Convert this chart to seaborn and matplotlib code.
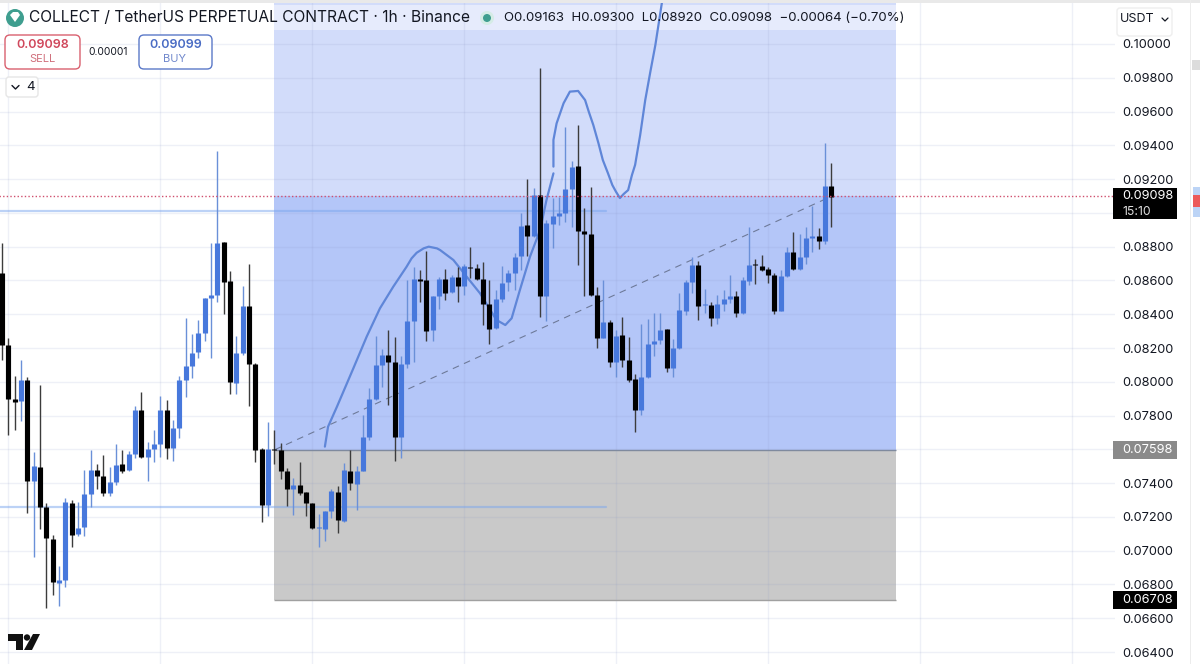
import numpy as np
import pandas as pd
import matplotlib
matplotlib.use("Agg")
import matplotlib.pyplot as plt
import seaborn as sns
from matplotlib.patches import Rectangle, FancyBboxPatch, Circle, Polygon
from matplotlib.lines import Line2D
from matplotlib.transforms import IdentityTransform

# Candles, price in units of 0.00001
opens = [8643, 8219, 7901, 7884, 8008, 7414, 7497, 7261, 7071, 6809,
         6825, 7282, 7099, 7138, 7336, 7480, 7442, 7342, 7405, 7513,
         7478, 7570, 7835, 7555, 7600, 7633, 7835, 7606, 7724, 8010,
         8095, 8174, 8286, 8495, 8515, 8828, 8596, 7994, 8172, 8450,
         8103, 7600, 7269, 7600, 7598, 7472, 7363, 7387, 7345, 7282,
         7134, 7131, 7233, 7347, 7178, 7474, 7397, 7474, 7671, 7898,
         8101, 8158, 8120, 7671, 8103, 8357, 8611, 8600, 8308, 8509,
         8610, 8529, 8623, 8570, 8682, 8675, 8608, 8460, 8316, 8493,
         8590, 8647, 8744, 8929, 8866, 9106, 8509, 8937, 8982, 8998,
         9140, 9278, 8895, 8876, 8511, 8262, 8355, 8117, 8276, 8130,
         8016, 7835, 8030, 8223, 8245, 8312, 8083, 8201, 8418, 8588,
         8692, 8452, 8454, 8379, 8458, 8493, 8505, 8410, 8598, 8696,
         8686, 8667, 8635, 8422, 8627, 8769, 8667, 8740, 8854, 8862,
         8834, 9162]
closes = [8219, 7901, 7878, 8010, 7414, 7501, 7261, 7073, 6813, 6825,
          7288, 7095, 7134, 7336, 7476, 7444, 7342, 7409, 7509, 7474,
          7570, 7835, 7556, 7600, 7631, 7835, 7606, 7724, 8010, 8095,
          8172, 8286, 8499, 8515, 8823, 8592, 8000, 8172, 8450, 8103,
          7598, 7269, 7604, 7596, 7472, 7363, 7387, 7342, 7282, 7134,
          7140, 7233, 7351, 7184, 7480, 7401, 7474, 7671, 7898, 8097,
          8158, 8120, 7671, 8103, 8361, 8611, 8598, 8302, 8509, 8610,
          8525, 8619, 8570, 8686, 8671, 8608, 8460, 8314, 8493, 8586,
          8643, 8740, 8925, 8866, 9106, 8509, 8939, 8982, 8998, 9140,
          9274, 8895, 8876, 8511, 8262, 8355, 8117, 8274, 8130, 8008,
          7835, 8030, 8221, 8243, 8308, 8083, 8201, 8424, 8588, 8692,
          8448, 8460, 8379, 8462, 8491, 8505, 8410, 8600, 8692, 8690,
          8663, 8635, 8420, 8627, 8769, 8667, 8740, 8854, 8862, 8834,
          9160, 9097]
highs = [8821, 8259, 8032, 8130, 8028, 7584, 7978, 7282, 7091, 6912,
         7310, 7298, 7290, 7480, 7598, 7513, 7564, 7495, 7631, 7598,
         7588, 7854, 7941, 7643, 7712, 7917, 7894, 7775, 8032, 8375,
         8280, 8365, 8499, 8821, 9369, 8828, 8655, 8274, 8566, 8696,
         8111, 7608, 7762, 7716, 7637, 7491, 7430, 7523, 7345, 7282,
         7219, 7233, 7365, 7385, 7519, 7598, 7503, 7805, 7963, 8272,
         8197, 8308, 8264, 8150, 8604, 8682, 8659, 8777, 8509, 8623,
         8669, 8633, 8682, 8698, 8797, 8698, 8708, 8600, 8544, 8686,
         8659, 8765, 8998, 9199, 9146, 9856, 8959, 9087, 9097, 9511,
         9310, 9521, 9028, 9156, 8564, 8604, 8363, 8308, 8381, 8264,
         8048, 8341, 8373, 8406, 8406, 8312, 8255, 8525, 8600, 8738,
         8718, 8552, 8470, 8515, 8544, 8635, 8535, 8623, 8919, 8728,
         8751, 8679, 8643, 8659, 8797, 8886, 8876, 8915, 9041, 8909,
         9416, 9298]
lows = [8130, 7687, 7716, 7766, 7223, 6963, 7129, 6659, 6736, 6675,
        6785, 7022, 7089, 7089, 7259, 7365, 7322, 7322, 7389, 7460,
        7472, 7547, 7551, 7411, 7525, 7553, 7543, 7533, 7667, 7909,
        8024, 8142, 8241, 8140, 8475, 8402, 7925, 7927, 8158, 7858,
        7525, 7170, 7207, 7515, 7424, 7267, 7213, 7332, 7203, 7129,
        7022, 7056, 7194, 7105, 7168, 7361, 7243, 7470, 7657, 7890,
        7969, 7864, 7529, 7549, 8081, 8115, 8475, 8243, 8239, 8430,
        8485, 8525, 8475, 8511, 8613, 8604, 8337, 8225, 8312, 8472,
        8535, 8544, 8663, 8742, 8860, 8381, 8361, 8795, 8929, 8949,
        8919, 8692, 8505, 8509, 8199, 8258, 8087, 8028, 8087, 7998,
        7700, 7803, 8022, 8154, 8223, 8059, 8028, 8197, 8393, 8525,
        8367, 8408, 8328, 8341, 8422, 8466, 8383, 8402, 8572, 8578,
        8653, 8586, 8402, 8420, 8623, 8663, 8659, 8698, 8771, 8787,
        8813, 8919]

# Hand drawn curve on the chart (bar number, price)
curve_a_x = [51.0, 51.5, 52.9, 55.5, 57.6, 59.7, 61.8, 63.9, 64.7, 65.5, 66.6, 67.4, 68.7,
             69.2, 71.3, 73.4, 75.5, 78.1, 79.5, 80.5, 81.8, 83.4, 85.0, 86.0, 87.1]
curve_a_y = [0.07616, 0.07734, 0.07852, 0.08080, 0.08267, 0.08435, 0.08563, 0.08681,
             0.08731, 0.08764, 0.08790, 0.08800, 0.08790, 0.08780, 0.08721, 0.08622,
             0.08524, 0.08366, 0.08336, 0.08376, 0.08543, 0.08741, 0.08899, 0.09076,
             0.09234]
curve_b_x = [87.1, 87.1, 87.6, 88.7, 89.7, 91.0, 92.1, 92.7, 93.4, 94.2, 94.9, 95.7, 96.4,
             97.0, 97.6, 98.2, 98.9, 99.5, 100.0, 100.8, 101.6, 102.4, 103.2, 104.3]
curve_b_y = [0.09274, 0.09432, 0.09530, 0.09649, 0.09718, 0.09722, 0.09668, 0.09597,
             0.09520, 0.09414, 0.09313, 0.09236, 0.09165, 0.09124, 0.09088, 0.09112,
             0.09135, 0.09224, 0.09284, 0.09461, 0.09668, 0.09834, 0.09994, 0.10261]

# Price levels
last_price = 0.09098
entry_price = 0.07598
stop_price = 0.06708
level_high = 0.09010
level_low = 0.07257
price_ticks = [0.064, 0.066, 0.068, 0.070, 0.072, 0.074, 0.076, 0.078, 0.080, 0.082,
               0.084, 0.086, 0.088, 0.090, 0.092, 0.094, 0.096, 0.098, 0.100]
# these two sit under the price flags in the reference
hidden_ticks = [0.076, 0.090]
day_ticks = [1, 25, 49, 73, 97, 121, 145, 169]

BLUE = "#4778dc"
BLUE_WICK = "#6a90d8"
BLACK = "#000000"
BLACK_WICK = "#3c3c3c"
INK = "#131722"

sns.set_theme(style="white")
plt.rcParams["font.family"] = ["Inter", "DejaVu Sans"]

W, H = 1200, 664
PIXELS = IdentityTransform()
fig = plt.figure(figsize=(W / 100, H / 100), dpi=100, facecolor="white")
ax = fig.add_axes([0, 0, 1115 / W, 1])
ax.set_xlim(-0.316, 175.8)
ax.set_ylim(0.06329, 0.102605)

df = pd.DataFrame({"bar": np.arange(len(opens)), "open": opens, "high": highs,
                   "low": lows, "close": closes})
df[["open", "high", "low", "close"]] = df[["open", "high", "low", "close"]] / 100000
df["side"] = np.where(df["close"] >= df["open"], "up", "down")

wicks = df.melt(id_vars=["bar", "side"], value_vars=["low", "high"], value_name="price")
bodies = df.melt(id_vars=["bar", "side"], value_vars=["open", "close"], value_name="price")

# -------------------------
# Position tool and levels
# -------------------------
left, right = 43.0, 141.2
ax.fill_between([left, right], last_price, 0.102605, color="#d2dcfa", lw=0, zorder=1)
ax.fill_between([left, right], entry_price, last_price, color="#b4c6f8", lw=0, zorder=1)
ax.fill_between([left, right], stop_price, entry_price, color="#c9c9c9", lw=0, zorder=1)
ax.fill_between([left, right], 0.10083, 0.10231, color="#e6ebfc", lw=0, zorder=1)
ax.plot([left, right], [entry_price, entry_price], color="#7f8a9e", lw=1, zorder=1.6,
        solid_capstyle="butt")
ax.plot([left, right], [stop_price, stop_price], color="#a0a0a0", lw=1, zorder=1.6,
        solid_capstyle="butt")
ax.plot([-1, 95.4], [level_high, level_high], color="#7aa6ee", alpha=0.5, lw=1.6, zorder=1.6)
ax.plot([-1, 95.4], [level_low, level_low], color="#7aa6ee", alpha=0.5, lw=1.6, zorder=1.6)

# grid
ax.set_axisbelow("line")
ax.set_yticks(price_ticks)
ax.set_yticklabels(["" if p in hidden_ticks else f"{p:.5f}" for p in price_ticks],
                   color=INK, fontsize=9.2)
ax.set_xticks(day_ticks)
ax.set_xticklabels([])
ax.grid(True, color="#8c99c7", alpha=0.14, lw=1)
ax.yaxis.tick_right()
ax.tick_params(axis="y", length=0, pad=5)
ax.tick_params(axis="x", length=0)
sns.despine(ax=ax, left=True, right=True, top=True, bottom=True)

# -------------------------
# Candles
# -------------------------
sns.lineplot(data=pd.DataFrame({"x": curve_a_x, "y": curve_a_y}), x="x", y="y", sort=False,
             estimator=None, color="#5f86d8", lw=1.6, ax=ax, zorder=1.8)
sns.lineplot(data=pd.DataFrame({"x": curve_b_x, "y": curve_b_y}), x="x", y="y", sort=False,
             estimator=None, color="#5f86d8", lw=1.6, ax=ax, zorder=1.8)
ax.plot([43.1, 131], [entry_price, last_price], color="#6e7a99", lw=0.8,
        dashes=(6, 5), zorder=1.9)

sns.lineplot(data=wicks, x="bar", y="price", hue="side", units="bar", estimator=None,
             palette={"up": BLUE_WICK, "down": BLACK_WICK}, lw=1.0, legend=False, ax=ax,
             zorder=2, solid_capstyle="butt")
sns.lineplot(data=bodies, x="bar", y="price", hue="side", units="bar", estimator=None,
             palette={"up": BLUE, "down": BLACK}, lw=3.7, legend=False, ax=ax,
             zorder=2.1, solid_capstyle="butt")
ax.plot([-1, 175.8], [last_price, last_price], color="#d0506e", lw=1, ls=(0, (1, 1.6)), zorder=2.2)
ax.set_xlabel("")
ax.set_ylabel("")


# -------------------------
# Chart furniture in pixels
# -------------------------
def fx(x):
    return x / W


def fy(y):
    return 1 - y / H


def box(x0, y0, x1, y1, color, zorder=5):
    fig.add_artist(Rectangle((fx(x0), fy(y1)), (x1 - x0) / W, (y1 - y0) / H, color=color,
                             lw=0, transform=fig.transFigure, zorder=zorder))


def rounded(x0, y0, x1, y1, edge, face="white", r=5):
    fig.add_artist(FancyBboxPatch((x0, H - y1), x1 - x0, y1 - y0,
                                  boxstyle=f"round,pad=0,rounding_size={r}", fc=face, ec=edge,
                                  lw=1, transform=PIXELS, zorder=5))


def label(x, y, s, size=9.2, color=INK, ha="left", weight="normal"):
    fig.text(fx(x), fy(y), s, fontsize=size, color=color, ha=ha, va="center",
             fontweight=weight, zorder=6)


# top strip and right hand edge
box(0, 0, 1200, 3, "#e9e9e9")
box(1190, 0, 1191, 664, "#ececec")
box(1192, 60, 1200, 70, "#dcdcdc")
box(1193, 187, 1200, 217, "#bcd4f6")
box(1193, 195, 1200, 207, "#ec5a5a")

# price labels
box(1113, 188, 1177, 219, "#000000")
label(1122, 196, "0.09098", 9.2, "white")
label(1122, 212, "15:10", 8.8, "#dddddd")
box(1113, 441, 1177, 459, "#8a8a8a")
label(1122, 450, "0.07598", 9.2, "white")
box(1113, 591, 1177, 609, "#000000")
label(1122, 600, "0.06708", 9.2, "white")

# title row
fig.add_artist(Circle((15, H - 18), 9, fc="#3f9e8f", ec="none", transform=PIXELS, zorder=5))
fig.add_artist(Polygon([(10, H - 15), (13, H - 12), (18, H - 12), (20, H - 15), (15, H - 22)],
                       fc="white", ec="none", transform=PIXELS, zorder=6))
label(29, 18, "COLLECT / TetherUS PERPETUAL CONTRACT · 1h · Binance", 11.2)
fig.add_artist(Circle((487, H - 18), 7, fc="#d5ece6", ec="none", transform=PIXELS, zorder=5))
fig.add_artist(Circle((487, H - 18), 4, fc="#3f9e8f", ec="none", transform=PIXELS, zorder=6))
label(504, 18, "O0.09163  H0.09300  L0.08920  C0.09098  \u22120.00064 (\u22120.70%)", 9.5)

# sell / buy
rounded(5, 35, 80, 69, "#d9606f")
rounded(139, 35, 212, 69, "#5a78c8")
rounded(6, 77, 38, 97, "#e6e6e6", r=3)
label(42.5, 45, "0.09098", 9, "#d0485c", "center", "semibold")
label(42, 59, "SELL", 8, "#d0707c", "center")
label(108, 52, "0.00001", 7.4, INK, "center")
label(175.5, 45, "0.09099", 9, "#4a6cc4", "center", "semibold")
label(175, 59, "BUY", 8, "#7088cc", "center")
label(26, 87.5, "4", 9.6, INK)
fig.add_artist(Line2D([fx(12), fx(15.5), fx(19)], [fy(85.5), fy(89), fy(85.5)], color=INK, lw=1,
                      transform=fig.transFigure, zorder=6))

# currency selector
rounded(1117, 8, 1172, 36, "#eeeeee", r=3)
label(1120, 19, "USDT", 9)
fig.add_artist(Line2D([fx(1162), fx(1165), fx(1168)], [fy(18), fy(21), fy(18)],
                      color=INK, lw=0.9, transform=fig.transFigure, zorder=6))

# TV logo
fig.add_artist(Polygon([(8, H - 634), (23, H - 634), (23, H - 650), (16, H - 650), (16, H - 641), (8, H - 641)],
                       fc="#111111", ec="none", transform=PIXELS, zorder=6))
fig.add_artist(Circle((27, H - 637.5), 3.2, fc="#111111", ec="none", transform=PIXELS, zorder=6))
fig.add_artist(Polygon([(33, H - 634), (40, H - 634), (32, H - 650), (24, H - 650)],
                       fc="#111111", ec="none", transform=PIXELS, zorder=6))

fig.savefig("out.png", dpi=100)
